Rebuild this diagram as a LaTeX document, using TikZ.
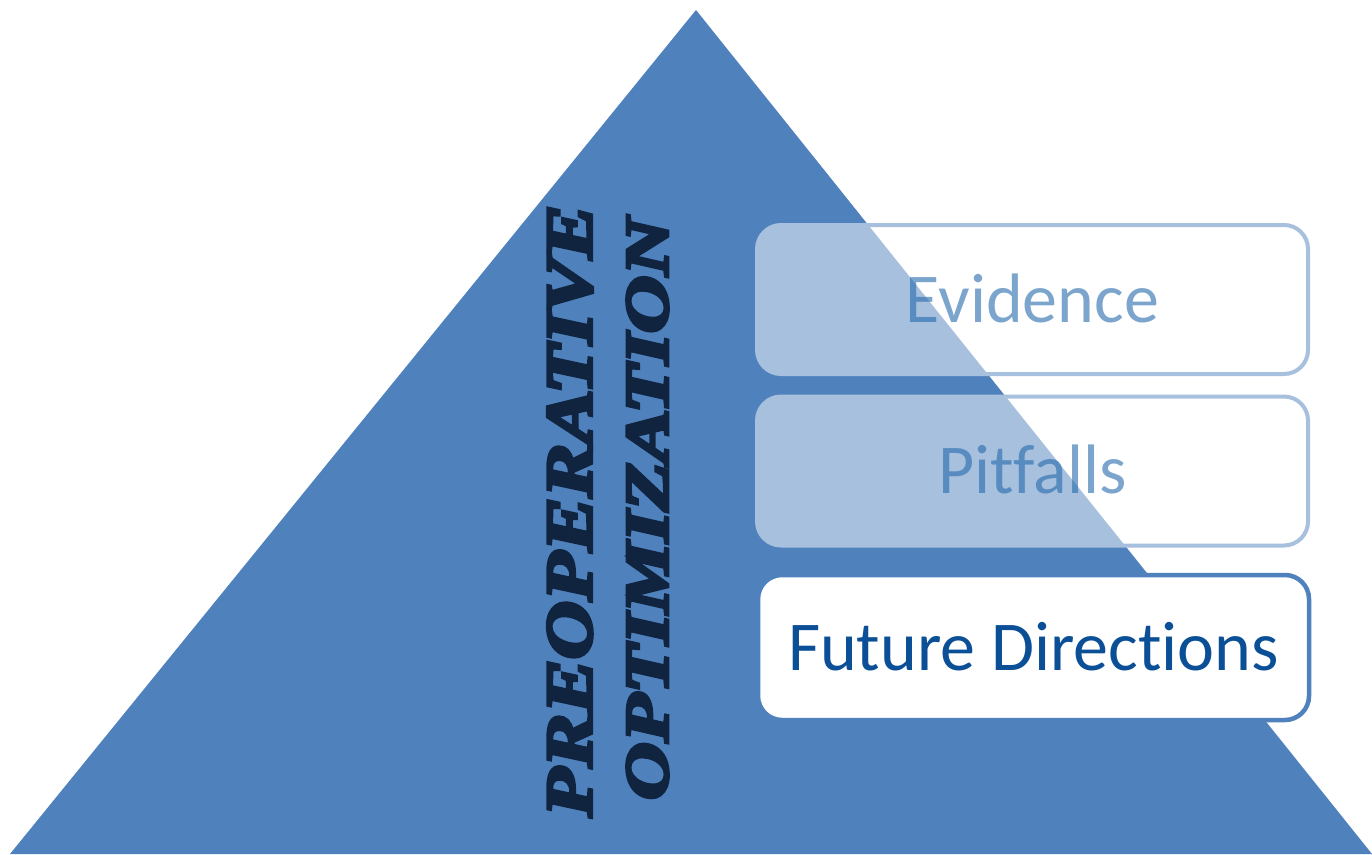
\documentclass[tikz,border=0pt]{standalone}
\usepackage{fontspec}
\setmainfont{Liberation Serif}
\newfontfamily\boxfont[RawFeature={-liga;-calt;-clig}]{Carlito}
\newfontfamily\heavyfont[FakeBold=5]{Liberation Serif Bold Italic}
\definecolor{tri}{HTML}{4F81BD}
\definecolor{navy}{HTML}{10243F}
\definecolor{lightedge}{HTML}{A7C0DE}
\definecolor{fadetext}{HTML}{2469AB}
\definecolor{darktext}{HTML}{0B4F97}
\tikzset{
  tribox/.style={rounded corners=24pt, line width=4pt, minimum width=551pt,
    inner sep=0pt, font=\boxfont\fontsize{70}{80}\selectfont,
    text height=45pt, text depth=0pt},
  fadebox/.style={tribox, draw=lightedge, fill=white, fill opacity=0.5,
    text=fadetext, text opacity=0.6, minimum height=149pt},
  mainbox/.style={tribox, draw=tri, line width=4.5pt, fill=white, text=darktext, minimum height=145pt},
  vtext/.style={rotate=90, inner sep=0pt, text=navy}
}
\begin{document}
\begin{tikzpicture}[x=1pt,y=-1pt]
\useasboundingbox (0,0) rectangle (1372,854);
\fill[tri] (10,854) coordinate (bl) -- (696,10) coordinate (apex) -- (1372,854) coordinate (br) -- cycle;
\node[vtext] (pre) at (570,511) {\resizebox{612pt}{44pt}{\heavyfont PREOPERATIVE}};
\node[vtext] (opt) at (647.5,509) {\resizebox{582pt}{41pt}{\heavyfont OPTIMIZATION}};
\node[fadebox] (evidence) at (1032.5,299.5) {Evidence};
\node[fadebox] (pitfalls) at (1032.5,471) {Pitfalls};
\node[mainbox] (future) at (1033.5,647.5) {Future Directions};
\end{tikzpicture}
\end{document}
